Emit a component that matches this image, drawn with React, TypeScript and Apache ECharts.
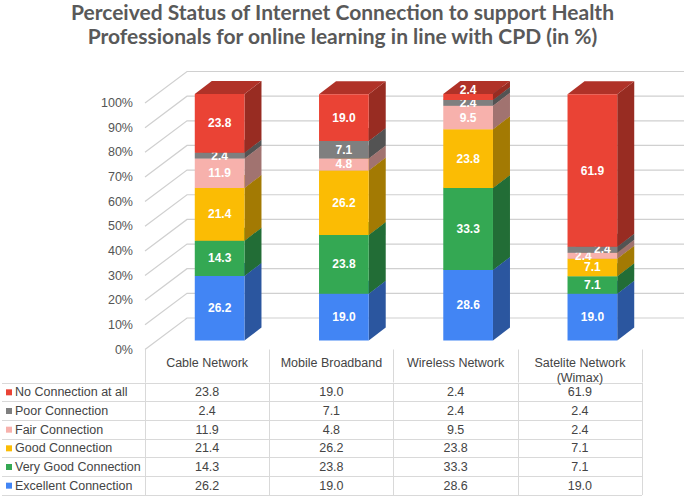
import React, { useEffect, useRef } from "react";
import * as echarts from "echarts";

const titleLines = [
  "Perceived Status of Internet Connection to support Health",
  "Professionals for online learning in line with CPD (in %)",
];
const categories = ["Cable Network", "Mobile Broadband", "Wireless Network", "Satelite Network\n(Wimax)"];
const seriesNames = [
  "Excellent Connection",
  "Very Good Connection",
  "Good Connection",
  "Fair Connection",
  "Poor Connection",
  "No Connection at all",
];
const excellent = [26.2, 19.0, 28.6, 19.0];
const veryGood = [14.3, 23.8, 33.3, 7.1];
const good = [21.4, 26.2, 23.8, 7.1];
const fair = [11.9, 4.8, 9.5, 2.4];
const poor = [2.4, 7.1, 2.4, 2.4];
const noConnection = [23.8, 19.0, 2.4, 61.9];
const yTicks = [0, 10, 20, 30, 40, 50, 60, 70, 80, 90, 100];

const colors = ["#4285F4", "#34A853", "#FBBC04", "#F7B1AC", "#7F7F7F", "#EA4335"];

const seriesValues = [excellent, veryGood, good, fair, poor, noConnection];

const FONT = "'Liberation Sans', Arial, sans-serif";
const GRID_LINE = "#d9d9d9";
const WALL_LINE = "#d0d0d0";
const WALL = { dx: 42, dy: -31.5 };
const FRONT = { dx: 12.5, dy: -9 };
const DEPTH = { dx: 17, dy: -13 };
const BAR_RATIO = 0.4;

function shade(hex: string, f: number) {
  const n = parseInt(hex.slice(1), 16);
  const r = Math.round(((n >> 16) & 255) * f);
  const g = Math.round(((n >> 8) & 255) * f);
  const b = Math.round((n & 255) * f);
  return `rgb(${r},${g},${b})`;
}

const isSmall = (v: number) => v < 3;

function labelNudge(s: number, i: number) {
  const n = seriesValues.length;
  const cur = seriesValues[s][i];
  if (!isSmall(cur)) return [0, 0];
  if (s === n - 1 && s > 0 && isSmall(seriesValues[s - 1][i])) return [0, -7];
  if (s + 1 < n - 1 && isSmall(seriesValues[s + 1][i])) return [-9, 0];
  if (s > 0 && s !== n - 1 && isSmall(seriesValues[s - 1][i])) return [10, -1];
  return [0, 0];
}

export default function App() {
  const ref = useRef<HTMLDivElement>(null);
  useEffect(() => {
    document.body.style.margin = "0";
    const chart = echarts.init(ref.current!, null, { renderer: "svg" });

    const wallSeries: any = {
      type: "custom",
      xAxisIndex: 0,
      yAxisIndex: 0,
      silent: true,
      data: yTicks.map((v) => [0, v]),
      encode: { x: 0, y: 1 },
      renderItem: (_p: any, api: any) => {
        const v = api.value(1);
        const band = api.size([1, 0])[0];
        const pL = api.coord([0, v]);
        const pR = api.coord([categories.length - 1, v]);
        const xl = pL[0] - band / 2;
        const xr = pR[0] + band / 2;
        const y = pL[1];
        return {
          type: "polyline",
          shape: {
            points: [
              [xl, y],
              [xl + WALL.dx, y + WALL.dy],
              [xr + WALL.dx, y + WALL.dy],
            ],
          },
          style: { stroke: WALL_LINE, lineWidth: 1.2, fill: "none" },
        };
      },
    };

    const barSeries: any[] = seriesValues.map((vals, s) => {
      const data = vals.map((v, i) => {
        let base = 0;
        for (let k = 0; k < s; k++) base += seriesValues[k][i];
        return [i, base, base + v, v];
      });
      const color = colors[s];
      return {
        type: "custom",
        name: seriesNames[s],
        xAxisIndex: 0,
        yAxisIndex: 0,
        silent: true,
        data,
        encode: { x: 0, y: [1, 2] },
        renderItem: (_p: any, api: any) => {
          const i = api.value(0);
          const lo = api.value(1);
          const hi = api.value(2);
          const v = api.value(3);
          const band = api.size([1, 0])[0];
          const w = band * BAR_RATIO;
          const pb = api.coord([i, lo]);
          const pt = api.coord([i, hi]);
          const x0 = pb[0] - w / 2 + FRONT.dx;
          const x1 = x0 + w;
          const yb = pb[1] + FRONT.dy;
          const yt = pt[1] + FRONT.dy;
          const nudge = labelNudge(s, i);
          return {
            type: "group",
            children: [
              {
                type: "polygon",
                shape: {
                  points: [
                    [x1, yb],
                    [x1 + DEPTH.dx, yb + DEPTH.dy],
                    [x1 + DEPTH.dx, yt + DEPTH.dy],
                    [x1, yt],
                  ],
                },
                style: { fill: shade(color, 0.65) },
              },
              {
                type: "polygon",
                shape: {
                  points: [
                    [x0, yt],
                    [x1, yt],
                    [x1 + DEPTH.dx, yt + DEPTH.dy],
                    [x0 + DEPTH.dx, yt + DEPTH.dy],
                  ],
                },
                style: { fill: shade(color, 0.75) },
              },
              {
                type: "rect",
                shape: { x: x0, y: yt, width: w, height: yb - yt },
                style: { fill: color },
              },
              {
                type: "text",
                x: (x0 + x1) / 2 + nudge[0],
                y: (yb + yt) / 2 + nudge[1],
                style: {
                  text: Number(v).toFixed(1),
                  fill: "#ffffff",
                  font: `bold 12px ${FONT}`,
                  align: "center",
                  verticalAlign: "middle",
                },
              },
            ],
          };
        },
      };
    });

    const tableData: number[][] = [];
    seriesValues.forEach((vals, s) => vals.forEach((v, i) => tableData.push([i, s, v])));

    const tableSeries: any = {
      type: "custom",
      xAxisIndex: 1,
      yAxisIndex: 1,
      silent: true,
      data: tableData,
      encode: { x: 0, y: 1 },
      renderItem: (_p: any, api: any) => {
        const p = api.coord([api.value(0), api.value(1)]);
        return {
          type: "text",
          x: p[0],
          y: p[1],
          style: {
            text: Number(api.value(2)).toFixed(1),
            fill: "#444",
            font: `12.5px ${FONT}`,
            align: "center",
            verticalAlign: "middle",
          },
        };
      },
    };

    const rich: any = {
      t: { padding: [0, 0, 0, 3], color: "#444", fontSize: 12.5, fontFamily: FONT },
    };
    colors.forEach((c, k) => {
      rich["c" + k] = { width: 6, height: 6, backgroundColor: c };
    });

    const titleStyle = {
      fontFamily: "Lato, 'Open Sans', sans-serif",
      fontWeight: "bold",
      fontSize: 21,
      color: "#595959",
    };

    const option: any = {
      animation: false,
      backgroundColor: "#ffffff",
      title: [
        {
          text: titleLines[0],
          left: "center",
          top: 0,
          padding: 0,
          textStyle: { ...titleStyle, lineHeight: 23 },
        },
        {
          text: titleLines[1],
          left: "center",
          top: 24,
          padding: 0,
          textStyle: { ...titleStyle, lineHeight: 23 },
        },
      ],
      grid: [
        { left: 145, right: 43, top: 103, bottom: 147.5 },
        { left: 145, right: 43, top: 383, bottom: 2 },
      ],
      xAxis: [
        {
          type: "category",
          gridIndex: 0,
          data: categories,
          axisLine: { show: false },
          axisTick: { show: true, length: 33, interval: 0, lineStyle: { color: GRID_LINE } },
          axisLabel: {
            interval: 0,
            margin: 6,
            color: "#444",
            fontSize: 12.5,
            fontFamily: FONT,
            lineHeight: 15,
            verticalAlign: "top",
          },
          splitLine: { show: false },
        },
        {
          type: "category",
          gridIndex: 1,
          data: categories,
          axisLine: { show: false },
          axisTick: { show: false },
          axisLabel: { show: false },
          splitLine: { show: true, interval: 0, lineStyle: { color: GRID_LINE } },
        },
      ],
      yAxis: [
        {
          type: "value",
          gridIndex: 0,
          min: 0,
          max: 100,
          interval: 10,
          axisLine: { show: false },
          axisTick: { show: false },
          splitLine: { show: false },
          axisLabel: {
            formatter: "{value}%",
            margin: 12,
            color: "#555",
            fontSize: 12.5,
            fontFamily: FONT,
          },
        },
        {
          type: "category",
          gridIndex: 1,
          data: seriesNames,
          axisLine: { show: true, lineStyle: { color: GRID_LINE } },
          axisTick: { show: true, length: 143, interval: 0, lineStyle: { color: GRID_LINE } },
          splitLine: { show: true, interval: 0, lineStyle: { color: GRID_LINE } },
          axisLabel: {
            interval: 0,
            align: "left",
            margin: 139,
            formatter: (value: string, index: number) => `{c${index}|}{t|${value}}`,
            rich,
          },
        },
        {
          type: "category",
          gridIndex: 1,
          data: seriesNames,
          offset: 143,
          axisLine: { show: true, lineStyle: { color: GRID_LINE } },
          axisTick: { show: false },
          axisLabel: { show: false },
          splitLine: { show: false },
        },
      ],
      series: [wallSeries, ...barSeries, tableSeries],
    };

    chart.setOption(option);
    return () => chart.dispose();
  }, []);
  return <div ref={ref} style={{ width: 685, height: 497 }} />;
}
